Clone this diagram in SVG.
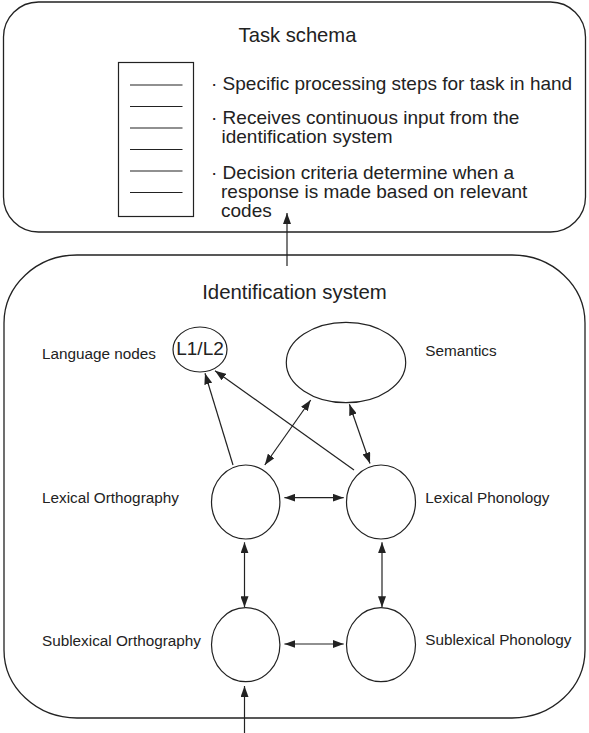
<svg xmlns="http://www.w3.org/2000/svg" width="589" height="733" viewBox="0 0 589 733">
<defs>
<style>
text{font-family:"Liberation Sans",Arial,Helvetica,sans-serif;fill:#222}
.title{font-size:20.2px;text-anchor:middle}
.bul{font-size:19px}
.lab{font-size:15.3px}
.box{fill:none;stroke:#222;stroke-width:1.3}
.shape{fill:#fff;stroke:#222;stroke-width:1.2}
.ln{stroke:#222;stroke-width:1.2;fill:none}
.con{stroke:#222;stroke-width:1.2;fill:none;marker-end:url(#ah)}
.con2{stroke:#222;stroke-width:1.2;fill:none;marker-end:url(#ah);marker-start:url(#ahs)}
</style>
<marker id="ah" viewBox="0 0 11 8" refX="11" refY="4" markerWidth="11" markerHeight="8" markerUnits="userSpaceOnUse" orient="auto">
<path d="M0,0 L11,4 L0,8 Z" fill="#222"/>
</marker>
<marker id="ahs" viewBox="0 0 11 8" refX="0" refY="4" markerWidth="11" markerHeight="8" markerUnits="userSpaceOnUse" orient="auto">
<path d="M11,0 L0,4 L11,8 Z" fill="#222"/>
</marker>
</defs>
<rect width="589" height="733" fill="#fff"/>

<g id="task-schema">
<rect class="box" x="3.5" y="2" width="582" height="230" rx="35" ry="35"/>
<text class="title" x="297.5" y="42">Task schema</text>
<rect class="shape" x="118.5" y="62.5" width="75" height="154"/>
<path class="ln" d="M130,85H182.5M130,106.5H182.5M130,128H182.5M130,149.5H182.5M130,171H182.5M130,192.5H182.5"/>
<text class="bul" x="211" y="90">· Specific processing steps for task in hand</text>
<text class="bul" x="211" y="124">· Receives continuous input from the</text>
<text class="bul" x="221.5" y="143">identification system</text>
<text class="bul" x="211" y="178.5">· Decision criteria determine when a</text>
<text class="bul" x="221" y="197.5">response is made based on relevant</text>
<text class="bul" x="221" y="216.5">codes</text>
</g>

<g id="identification-system">
<rect class="box" x="4" y="255" width="581" height="463" rx="73" ry="68"/>
<text class="title" x="294.5" y="299" style="font-size:20.4px">Identification system</text>
</g>

<g id="language-nodes">
<ellipse class="shape" cx="200" cy="349.5" rx="27" ry="22.5"/>
<text x="200" y="355" style="font-size:19px;text-anchor:middle">L1/L2</text>
<text class="lab" x="42" y="359">Language nodes</text>
</g>

<g id="semantics">
<ellipse class="shape" cx="346" cy="362.5" rx="59.7" ry="40.2"/>
<text class="lab" x="425.2" y="356">Semantics</text>
</g>

<g id="lexical-orthography">
<ellipse class="shape" cx="245.7" cy="502" rx="34.2" ry="37"/>
<text class="lab" x="42" y="503.3">Lexical Orthography</text>
</g>

<g id="lexical-phonology">
<ellipse class="shape" cx="381" cy="502" rx="34.5" ry="37"/>
<text class="lab" x="425.2" y="503.3">Lexical Phonology</text>
</g>

<g id="sublexical-orthography">
<ellipse class="shape" cx="245.7" cy="644.7" rx="34.2" ry="37"/>
<text class="lab" x="42" y="646">Sublexical Orthography</text>
</g>

<g id="sublexical-phonology">
<ellipse class="shape" cx="381" cy="644.7" rx="34.5" ry="37"/>
<text class="lab" x="425.2" y="645.3">Sublexical Phonology</text>
</g>

<g id="connectors">
<line class="con" x1="287" y1="266" x2="287" y2="213"/>
<line class="con" x1="244.5" y1="733" x2="244.5" y2="686"/>
<line class="con" x1="233" y1="465" x2="205" y2="373.3"/>
<line class="con" x1="354" y1="470" x2="215" y2="370.7"/>
<line class="con2" x1="310.7" y1="400" x2="264.8" y2="465"/>
<line class="con2" x1="349.4" y1="404.3" x2="370" y2="463.5"/>
<line class="con2" x1="284.4" y1="497.7" x2="343.7" y2="497.7"/>
<line class="con2" x1="284.4" y1="644" x2="343.7" y2="644"/>
<line class="con2" x1="244.5" y1="542.3" x2="244.5" y2="607.3"/>
<line class="con2" x1="382" y1="542.3" x2="382" y2="607.3"/>
</g>
</svg>
